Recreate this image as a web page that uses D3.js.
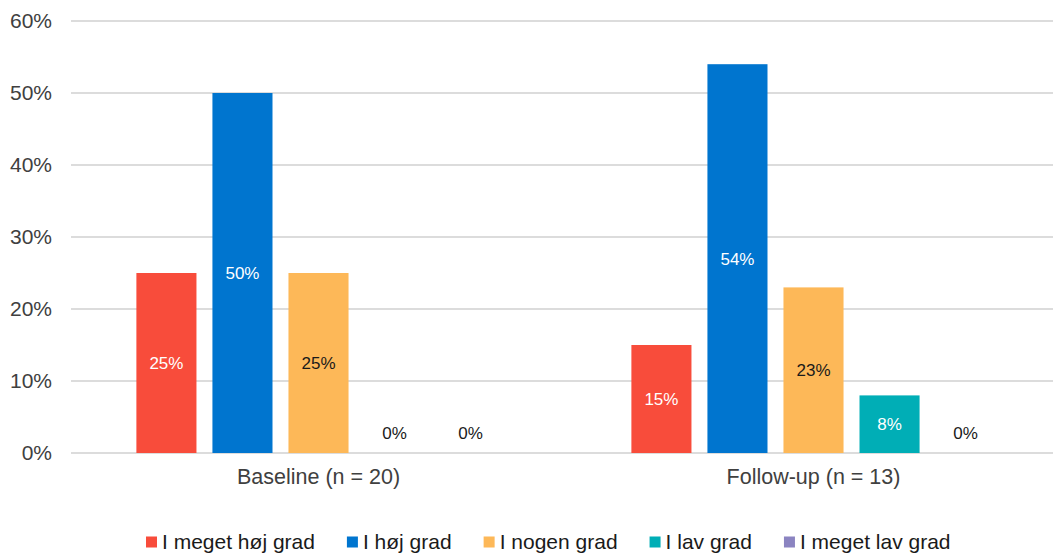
<!DOCTYPE html>
<html>
<head>
<meta charset="utf-8">
<script src="https://cdn.jsdelivr.net/npm/d3@7"></script>
<style>
  html, body { margin: 0; padding: 0; background: #fff; }
  svg { display: block; font-family: "Liberation Sans", Arial, sans-serif; }
</style>
</head>
<body>
<svg id="chart" width="1053" height="556"></svg>
<script>
// Survey answers by measurement point (share of respondents, %)
const categories = ["Baseline (n = 20)", "Follow-up (n = 13)"];
const seriesNames = ["I meget høj grad", "I høj grad", "I nogen grad", "I lav grad", "I meget lav grad"];
const seriesColors = ["#F84C3B", "#0075CF", "#FDB858", "#00AEB6", "#8B84C1"];
const labelColors = ["#ffffff", "#ffffff", "#1a1a1a", "#ffffff", "#ffffff"];
const baselineValues = [25, 50, 25, 0, 0];
const followUpValues = [15, 54, 23, 8, 0];
const yTicks = [0, 10, 20, 30, 40, 50, 60];

const values = [baselineValues, followUpValues];

const svg = d3.select("#chart");
const margin = { left: 71, top: 21, right: -8, bottom: 103 };
const W = 1053, H = 556;
const plotW = W - margin.left - margin.right;
const plotH = H - margin.top - margin.bottom;

const g = svg.append("g").attr("transform", `translate(${margin.left},${margin.top})`);

const y = d3.scaleLinear().domain([0, 60]).range([plotH, 0]);
const x0 = d3.scaleBand().domain(categories).range([0, plotW]).padding(0);
const x1 = d3.scaleBand().domain(seriesNames).range([0, x0.bandwidth()])
  .paddingInner(0.21).paddingOuter(0.86);

// Horizontal gridlines
g.append("g")
  .selectAll("line")
  .data(yTicks)
  .join("line")
  .attr("x1", 0).attr("x2", plotW)
  .attr("y1", d => y(d)).attr("y2", d => y(d))
  .attr("stroke", "#d0d0d0").attr("stroke-width", 1.3);

// Y axis labels
const yAxis = d3.axisLeft(y).tickValues(yTicks).tickFormat(d => d + "%").tickSize(0).tickPadding(19);
const ya = g.append("g").call(yAxis);
ya.select(".domain").remove();
ya.selectAll("text").attr("font-size", 21).attr("fill", "#404040")
  .attr("font-family", "Liberation Sans, Arial, sans-serif");

// X axis labels
const xAxis = d3.axisBottom(x0).tickSize(0).tickPadding(16);
const xa = g.append("g").attr("transform", `translate(0,${plotH})`).call(xAxis);
xa.select(".domain").remove();
xa.selectAll("text").attr("font-size", 21.5).attr("fill", "#404040")
  .attr("font-family", "Liberation Sans, Arial, sans-serif");

// Bars
const groups = g.selectAll(".grp")
  .data(categories)
  .join("g")
  .attr("class", "grp")
  .attr("transform", d => `translate(${x0(d)},0)`);

const cells = groups.selectAll(".cell")
  .data((c, ci) => seriesNames.map((s, si) => ({ s, si, v: values[ci][si] })))
  .join("g").attr("class", "cell");

cells.append("rect")
  .attr("x", d => x1(d.s))
  .attr("width", x1.bandwidth())
  .attr("y", d => y(d.v))
  .attr("height", d => y(0) - y(d.v))
  .attr("fill", d => seriesColors[d.si]);

cells.append("text")
  .attr("x", d => x1(d.s) + x1.bandwidth() / 2)
  .attr("y", d => d.v > 0 ? (y(d.v) + y(0)) / 2 : y(0) - 20)
  .attr("dy", "0.35em")
  .attr("text-anchor", "middle")
  .attr("font-size", 17)
  .attr("fill", d => d.v > 0 ? labelColors[d.si] : "#1a1a1a")
  .text(d => d.v + "%");

// Legend: swatch + label, laid out left to right by measured label width
const legend = svg.append("g").attr("transform", "translate(146,542)");
const items = legend.selectAll("g")
  .data(seriesNames)
  .join("g");
items.append("rect")
  .attr("x", 0).attr("y", -5.5).attr("width", 11).attr("height", 11)
  .attr("fill", (d, i) => seriesColors[i]);
items.append("text")
  .attr("x", 16).attr("dy", "0.35em")
  .attr("font-size", 21).attr("fill", "#1a1a1a")
  .text(d => d);
let cursor = 0;
items.each(function () {
  const item = d3.select(this);
  item.attr("transform", `translate(${cursor},0)`);
  const w = item.select("text").node().getComputedTextLength();
  cursor += 16 + w + 32;
});
</script>
</body>
</html>
